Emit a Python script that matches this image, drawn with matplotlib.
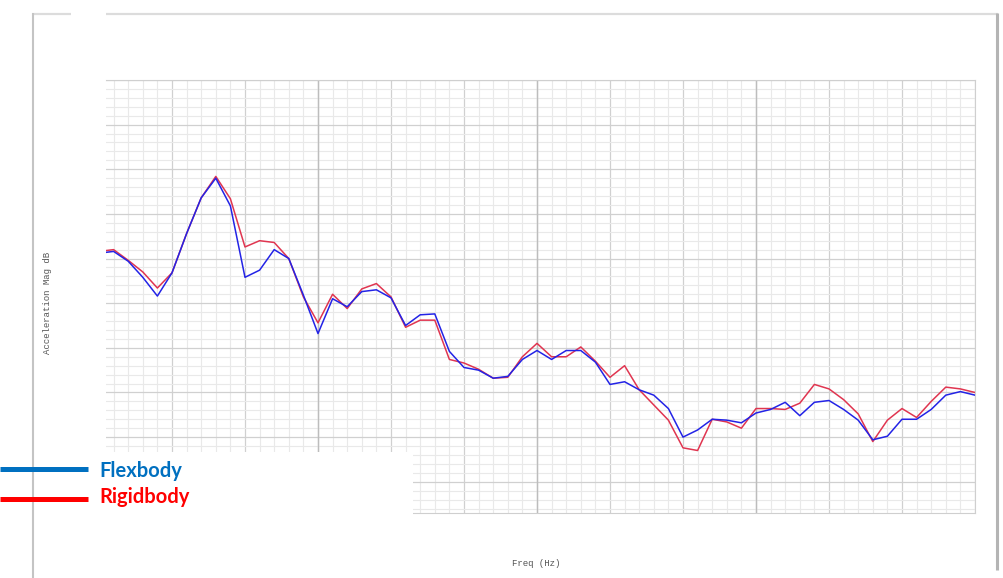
import numpy as np
from matplotlib import pyplot as plt
from matplotlib.lines import Line2D
from matplotlib.patches import Rectangle
from matplotlib.ticker import MultipleLocator

# frequency (Hz) and magnitude (dB)
freq = [0.5] + list(range(1, 61))
flexbody = [40.7, 40.8, 39.7, 37.9, 35.8, 38.4, 42.8, 46.8, 49.0, 45.9,
            37.9, 38.7, 41.0, 40.0, 35.9, 31.6, 35.5, 34.6, 36.3, 36.5,
            35.6, 32.5, 33.7, 33.8, 29.6, 27.8, 27.5, 26.6, 26.8, 28.7,
            29.7, 28.7, 29.7, 29.7, 28.4, 25.9, 26.2, 25.3, 24.7, 23.2,
            20.0, 20.8, 22.0, 21.9, 21.6, 22.7, 23.1, 23.9, 22.4, 23.9,
            24.1, 23.1, 21.9, 19.7, 20.1, 22.0, 22.0, 23.1, 24.7, 25.1,
            24.7]
rigidbody = [40.9, 41.0, 39.8, 38.5, 36.7, 38.4, 42.8, 46.8, 49.2, 46.7,
             41.3, 42.0, 41.8, 40.0, 35.7, 32.8, 36.0, 34.4, 36.6, 37.2,
             35.7, 32.3, 33.1, 33.1, 28.7, 28.3, 27.6, 26.6, 26.7, 29.0,
             30.5, 29.0, 29.0, 30.1, 28.5, 26.7, 28.0, 25.3, 23.6, 21.9,
             18.8, 18.5, 22.0, 21.7, 21.0, 23.2, 23.2, 23.1, 23.8, 25.9,
             25.4, 24.2, 22.6, 19.5, 21.9, 23.2, 22.2, 24.0, 25.6, 25.4,
             25.0]

W, H = 1004, 578
fig = plt.figure(figsize=(W / 100, H / 100), dpi=100)
fig.patch.set_facecolor('white')

ax = fig.add_axes([106 / W, 1 - 513 / H, (975 - 106) / W, (513 - 80) / H])
ax.plot(freq, rigidbody, color='#e03550', lw=1.1, zorder=3)
ax.plot(freq, flexbody, color='#2323e6', lw=1.1, zorder=4)

ax.set_xlim(0.48, 60)
ax.set_ylim(11.5, 60)
ax.xaxis.set_major_locator(MultipleLocator(5))
ax.xaxis.set_minor_locator(MultipleLocator(1))
ax.yaxis.set_major_locator(MultipleLocator(5))
ax.yaxis.set_minor_locator(MultipleLocator(1))
ax.grid(which='minor', color='#e9e9e9', lw=0.8)
ax.grid(which='major', color='#d0d0d0', lw=0.9)
for xv in np.arange(15, 60, 15):
    ax.axvline(xv, color='#bdbdbd', lw=1.0, zorder=1)
ax.set_axisbelow(True)
ax.tick_params(which='both', length=0, labelbottom=False, labelleft=False)
for s in ax.spines.values():
    s.set_color('#cfcfcf')
    s.set_linewidth(0.8)
ax.spines['left'].set_visible(False)

# outer frame of the screenshot
def fline(x0, y0, x1, y1, c, w):
    fig.add_artist(Line2D([x0 / W, x1 / W], [1 - y0 / H, 1 - y1 / H],
                          color=c, lw=w, solid_capstyle='butt',
                          transform=fig.transFigure))

fline(32, 14, 71, 14, '#dcdcdc', 1.6)
fline(106, 14, 998, 14, '#dcdcdc', 1.6)
fline(33, 13, 33, 578, '#c4c4c4', 1.5)
fline(997.5, 13, 997.5, 570, '#b4b4b4', 2.2)

# white patch under the legend
fig.add_artist(Rectangle((105 / W, 1 - 515 / H), (413 - 105) / W, (515 - 452) / H,
                         transform=fig.transFigure, facecolor='white',
                         edgecolor='none', zorder=5))

fline(0, 469, 88, 469, '#0070c0', 3.6)
fline(0, 499, 88, 499, '#ff0000', 3.6)
fig.text(99 / W, 1 - 471 / H, 'Flexbody', color='#0070c0', fontsize=14.5,
         fontweight='bold', family='Lato', va='center', ha='left', zorder=6)
fig.text(99 / W, 1 - 497 / H, 'Rigidbody', color='#ff0000', fontsize=14.5,
         fontweight='bold', family='Lato', va='center', ha='left', zorder=6)

fig.text(48 / W, 1 - 303 / H, 'Acceleration Mag dB', rotation=90,
         family='Liberation Mono', fontsize=6.5, color='#555555',
         ha='center', va='center')
fig.text(536 / W, 1 - 563 / H, 'Freq (Hz)', family='Liberation Mono',
         fontsize=6.5, color='#555555', ha='center', va='center')

fig.savefig('out.png', dpi=100)
